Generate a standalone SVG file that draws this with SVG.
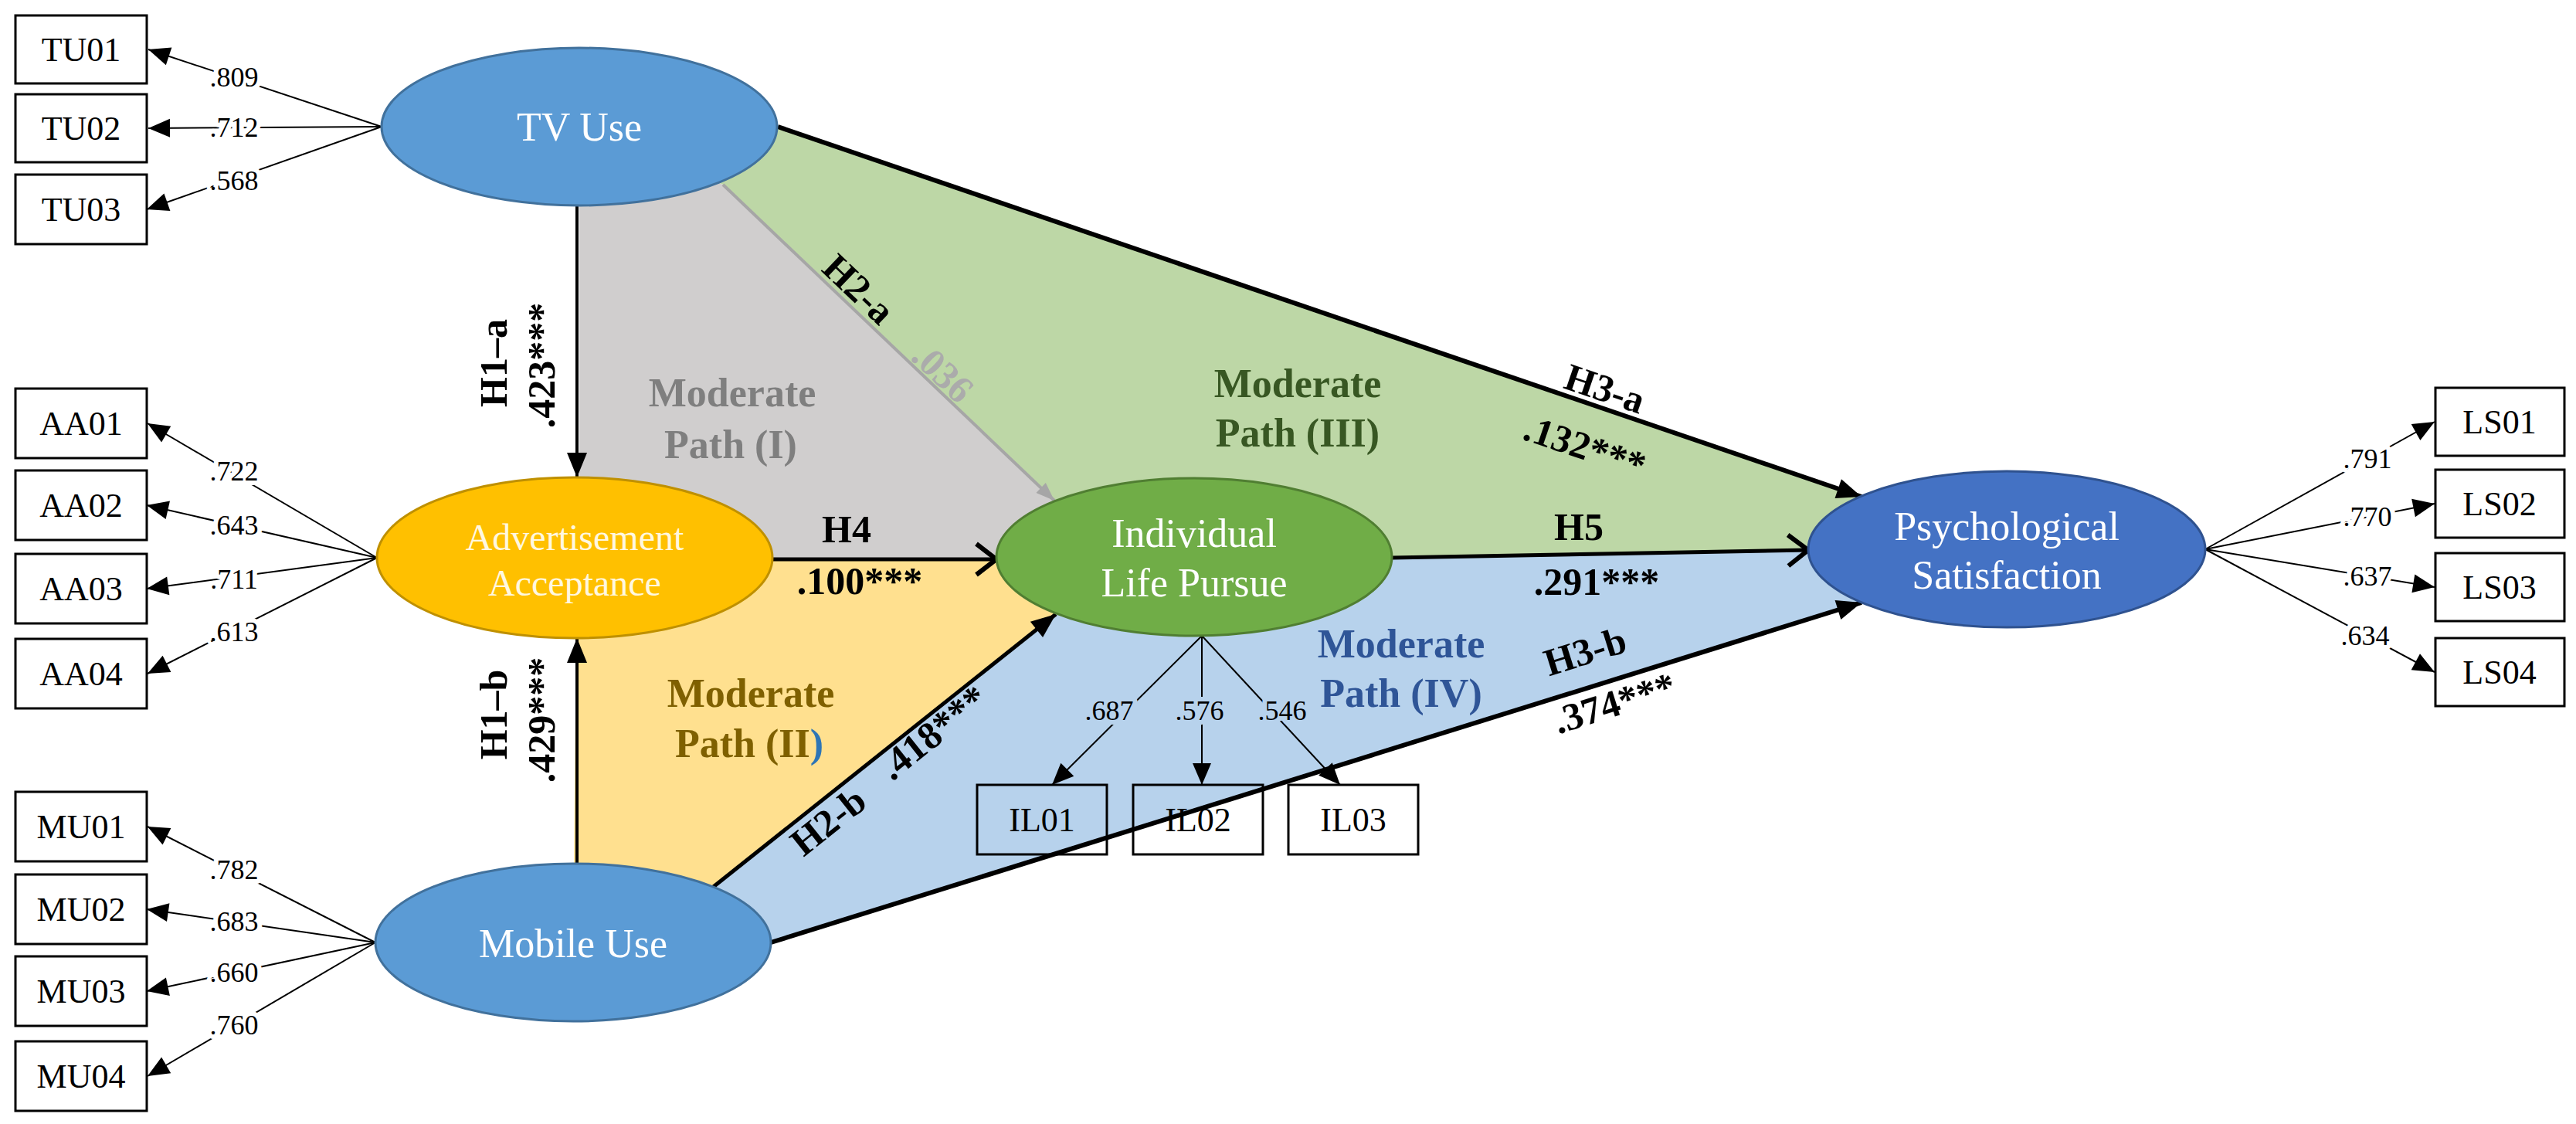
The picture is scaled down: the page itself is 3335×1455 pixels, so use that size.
<svg xmlns="http://www.w3.org/2000/svg" width="3335" height="1455" viewBox="0 0 3335 1455">
<defs>
<style>
.box{fill:#fff;stroke:#000;stroke-width:3}
.boxn{fill:none;stroke:#000;stroke-width:3}
.lbl{font-family:"Liberation Serif","Times New Roman",serif;font-size:44px;text-anchor:middle;fill:#000}
.ld{font-family:"Liberation Serif","Times New Roman",serif;font-size:36px;text-anchor:middle;fill:#000;paint-order:stroke;stroke:#fff;stroke-width:12px;stroke-linejoin:round}
.ldb{stroke:#B7D2EC}
.lat{font-family:"Liberation Serif","Times New Roman",serif;font-size:52px;text-anchor:middle;fill:#fff}
.hyp{font-family:"Liberation Serif","Times New Roman",serif;font-weight:bold;font-size:50px;text-anchor:middle;fill:#000}
.mod{font-family:"Liberation Serif","Times New Roman",serif;font-weight:bold;font-size:52px;text-anchor:middle}
.thin{stroke:#000;stroke-width:2;fill:none}
.pth{stroke:#000;stroke-width:5;fill:none}
</style>
<marker id="la" markerUnits="userSpaceOnUse" markerWidth="30" markerHeight="26" refX="28" refY="12" orient="auto" overflow="visible"><path d="M0,0 L28,12 L0,24 z" fill="#000"/></marker>
<marker id="ah" markerUnits="userSpaceOnUse" markerWidth="34" markerHeight="28" refX="32" refY="13" orient="auto" overflow="visible"><path d="M0,0 L32,13 L0,26 z" fill="#000"/></marker>
<marker id="ch" markerUnits="userSpaceOnUse" markerWidth="36" markerHeight="46" refX="32" refY="23" orient="auto" overflow="visible"><path d="M6,3 L32,23 L6,43" fill="none" stroke="#000" stroke-width="6"/></marker>
<marker id="ga" markerUnits="userSpaceOnUse" markerWidth="26" markerHeight="20" refX="24" refY="9" orient="auto" overflow="visible"><path d="M0,0 L24,9 L0,18 z" fill="#A6A6A6"/></marker>
</defs>
<rect width="3335" height="1455" fill="#fff"/>

<g id="regions">
<polygon points="750,164 936,239 1365,648 1546,721 750,724" fill="#D0CECE"/>
<polygon points="750,164 1007,164 2410,643 2341,712 1802,722 1546,721 1365,648 936,239" fill="#BDD7A6"/>
<polygon points="747,724 1546,724 1367,795 921,1150 742,1220" fill="#FFE08F"/>
<polygon points="921,1150 1367,795 1546,721 1802,722 2341,712 2410,780 998,1220 742,1220" fill="#B7D2EC"/>
</g>

<g id="connectors">
<line class="thin" x1="494" y1="164" x2="192" y2="64" marker-end="url(#la)"/>
<line class="thin" x1="494" y1="164" x2="192" y2="166" marker-end="url(#la)"/>
<line class="thin" x1="494" y1="164" x2="190" y2="271" marker-end="url(#la)"/>
<line class="thin" x1="488" y1="722" x2="191" y2="548" marker-end="url(#la)"/>
<line class="thin" x1="488" y1="722" x2="190" y2="654" marker-end="url(#la)"/>
<line class="thin" x1="488" y1="722" x2="190" y2="762" marker-end="url(#la)"/>
<line class="thin" x1="488" y1="722" x2="191" y2="872" marker-end="url(#la)"/>
<line class="thin" x1="486" y1="1220" x2="191" y2="1070" marker-end="url(#la)"/>
<line class="thin" x1="486" y1="1220" x2="190" y2="1177" marker-end="url(#la)"/>
<line class="thin" x1="486" y1="1220" x2="190" y2="1283" marker-end="url(#la)"/>
<line class="thin" x1="486" y1="1220" x2="191" y2="1393" marker-end="url(#la)"/>
<line class="thin" x1="2855" y1="711" x2="3152" y2="546" marker-end="url(#la)"/>
<line class="thin" x1="2855" y1="711" x2="3152" y2="652" marker-end="url(#la)"/>
<line class="thin" x1="2855" y1="711" x2="3152" y2="760" marker-end="url(#la)"/>
<line class="thin" x1="2855" y1="711" x2="3152" y2="870" marker-end="url(#la)"/>
<line class="thin" x1="1556" y1="823" x2="1362" y2="1016" marker-end="url(#la)"/>
<line class="thin" x1="1556" y1="823" x2="1556" y2="1016" marker-end="url(#la)"/>
<line class="thin" x1="1556" y1="823" x2="1735" y2="1016" marker-end="url(#la)"/>

<line class="pth" x1="747" y1="266" x2="747" y2="618" marker-end="url(#ah)" style="stroke-width:4"/>
<line class="pth" x1="747" y1="1118" x2="747" y2="826" marker-end="url(#ah)" style="stroke-width:4"/>
<line x1="936" y1="239" x2="1365" y2="648" stroke="#A6A6A6" stroke-width="4" marker-end="url(#ga)"/>
<line class="pth" x1="921" y1="1150" x2="1367" y2="795" marker-end="url(#ah)"/>
<line class="pth" x1="1000" y1="724" x2="1290" y2="724" marker-end="url(#ch)"/>
<line class="pth" x1="1802" y1="722" x2="2341" y2="712" marker-end="url(#ch)"/>
<line class="pth" x1="1007" y1="164" x2="2410" y2="643" marker-end="url(#ah)" style="stroke-width:6"/>
<line class="pth" x1="998" y1="1220" x2="2410" y2="780" marker-end="url(#ah)" style="stroke-width:6"/>

<text class="ld" x="303" y="112">.809</text>
<text class="ld" x="303" y="177">.712</text>
<text class="ld" x="303" y="246">.568</text>
<text class="ld" x="303" y="622">.722</text>
<text class="ld" x="303" y="692">.643</text>
<text class="ld" x="303" y="762">.711</text>
<text class="ld" x="303" y="830">.613</text>
<text class="ld" x="303" y="1138">.782</text>
<text class="ld" x="303" y="1205">.683</text>
<text class="ld" x="303" y="1271">.660</text>
<text class="ld" x="303" y="1339">.760</text>
<text class="ld" x="3065" y="606">.791</text>
<text class="ld" x="3065" y="681">.770</text>
<text class="ld" x="3065" y="758">.637</text>
<text class="ld" x="3062" y="835">.634</text>
<text class="ld ldb" x="1436" y="932">.687</text>
<text class="ld ldb" x="1553" y="932">.576</text>
<text class="ld ldb" x="1660" y="932">.546</text>

<text class="hyp" transform="translate(656,470) rotate(-90)">H1–a</text>
<text class="hyp" transform="translate(718,473) rotate(-90)">.423***</text>
<text class="hyp" transform="translate(656,925) rotate(-90)">H1–b</text>
<text class="hyp" transform="translate(718,932) rotate(-90)">.429***</text>
<text class="hyp" transform="translate(1112,374) rotate(43.6)" y="17">H2-a</text>
<text class="hyp" transform="translate(1221,482) rotate(43.6)" y="17" style="fill:#ABABAB">.036</text>
<text class="hyp" transform="translate(1072,1063) rotate(-38.5)" y="17">H2-b</text>
<text class="hyp" transform="translate(1208,948) rotate(-38.5)" y="17">.418***</text>
<text class="hyp" x="1096" y="702">H4</text>
<text class="hyp" x="1113" y="769">.100***</text>
<text class="hyp" x="2044" y="699">H5</text>
<text class="hyp" x="2067" y="770">.291***</text>
<text class="hyp" transform="translate(2078,503) rotate(18.8)" y="17">H3-a</text>
<text class="hyp" transform="translate(2052,578) rotate(18.8)" y="17">.132***</text>
<text class="hyp" transform="translate(2052,843) rotate(-17.4)" y="17">H3-b</text>
<text class="hyp" transform="translate(2090,910) rotate(-17.4)" y="17">.374***</text>

<text class="mod" x="948" y="526" fill="#7F7F7F">Moderate</text>
<text class="mod" x="946" y="593" fill="#7F7F7F">Path (I)</text>
<text class="mod" x="972" y="915" fill="#7F6000">Moderate</text>
<text class="mod" x="970" y="980" fill="#7F6000">Path (II<tspan fill="#2E75B6">)</tspan></text>
<text class="mod" x="1680" y="514" fill="#385723">Moderate</text>
<text class="mod" x="1680" y="578" fill="#385723">Path (III)</text>
<text class="mod" x="1814" y="851" fill="#2F5597">Moderate</text>
<text class="mod" x="1814" y="915" fill="#2F5597">Path (IV)</text>
</g>

<g id="TU01"><rect class="box" x="20" y="20" width="170" height="88"/><text class="lbl" x="105" y="79">TU01</text></g>
<g id="TU02"><rect class="box" x="20" y="122" width="170" height="88"/><text class="lbl" x="105" y="181">TU02</text></g>
<g id="TU03"><rect class="box" x="20" y="226" width="170" height="90"/><text class="lbl" x="105" y="286">TU03</text></g>
<g id="AA01"><rect class="box" x="20" y="503" width="170" height="90"/><text class="lbl" x="105" y="563">AA01</text></g>
<g id="AA02"><rect class="box" x="20" y="609" width="170" height="90"/><text class="lbl" x="105" y="669">AA02</text></g>
<g id="AA03"><rect class="box" x="20" y="717" width="170" height="90"/><text class="lbl" x="105" y="777">AA03</text></g>
<g id="AA04"><rect class="box" x="20" y="827" width="170" height="90"/><text class="lbl" x="105" y="887">AA04</text></g>
<g id="MU01"><rect class="box" x="20" y="1025" width="170" height="90"/><text class="lbl" x="105" y="1085">MU01</text></g>
<g id="MU02"><rect class="box" x="20" y="1132" width="170" height="90"/><text class="lbl" x="105" y="1192">MU02</text></g>
<g id="MU03"><rect class="box" x="20" y="1238" width="170" height="90"/><text class="lbl" x="105" y="1298">MU03</text></g>
<g id="MU04"><rect class="box" x="20" y="1348" width="170" height="90"/><text class="lbl" x="105" y="1408">MU04</text></g>
<g id="LS01"><rect class="box" x="3153" y="502" width="167" height="88"/><text class="lbl" x="3236" y="561">LS01</text></g>
<g id="LS02"><rect class="box" x="3153" y="608" width="167" height="88"/><text class="lbl" x="3236" y="667">LS02</text></g>
<g id="LS03"><rect class="box" x="3153" y="716" width="167" height="88"/><text class="lbl" x="3236" y="775">LS03</text></g>
<g id="LS04"><rect class="box" x="3153" y="826" width="167" height="88"/><text class="lbl" x="3236" y="885">LS04</text></g>
<g id="IL01"><rect class="boxn" x="1265" y="1016" width="168" height="90"/><text class="lbl" x="1349" y="1076">IL01</text></g>
<g id="IL02"><rect class="boxn" x="1467" y="1016" width="168" height="90"/><text class="lbl" x="1551" y="1076">IL02</text></g>
<g id="IL03"><rect class="boxn" x="1668" y="1016" width="168" height="90"/><text class="lbl" x="1752" y="1076">IL03</text></g>

<g id="TVUse"><ellipse cx="750" cy="164" rx="256" ry="102" fill="#5B9BD5" stroke="#41719C" stroke-width="3"/><text class="lat" x="750" y="182">TV Use</text></g>
<g id="AdvertisementAcceptance"><ellipse cx="744" cy="722" rx="256" ry="104" fill="#FFC000" stroke="#BF9000" stroke-width="3"/><text class="lat" x="744" y="712" style="font-size:48px;fill:#FFF8E0">Advertisement</text><text class="lat" x="744" y="771" style="font-size:48px;fill:#FFF8E0">Acceptance</text></g>
<g id="MobileUse"><ellipse cx="742" cy="1220" rx="256" ry="102" fill="#5B9BD5" stroke="#41719C" stroke-width="3"/><text class="lat" x="742" y="1239">Mobile Use</text></g>
<g id="IndividualLifePursue"><ellipse cx="1546" cy="721" rx="256" ry="102" fill="#70AD47" stroke="#507E32" stroke-width="3"/><text class="lat" x="1546" y="708">Individual</text><text class="lat" x="1546" y="772">Life Pursue</text></g>
<g id="PsychologicalSatisfaction"><ellipse cx="2598" cy="711" rx="257" ry="101" fill="#4472C4" stroke="#2F528F" stroke-width="3"/><text class="lat" x="2598" y="699">Psychological</text><text class="lat" x="2598" y="762">Satisfaction</text></g>
</svg>
